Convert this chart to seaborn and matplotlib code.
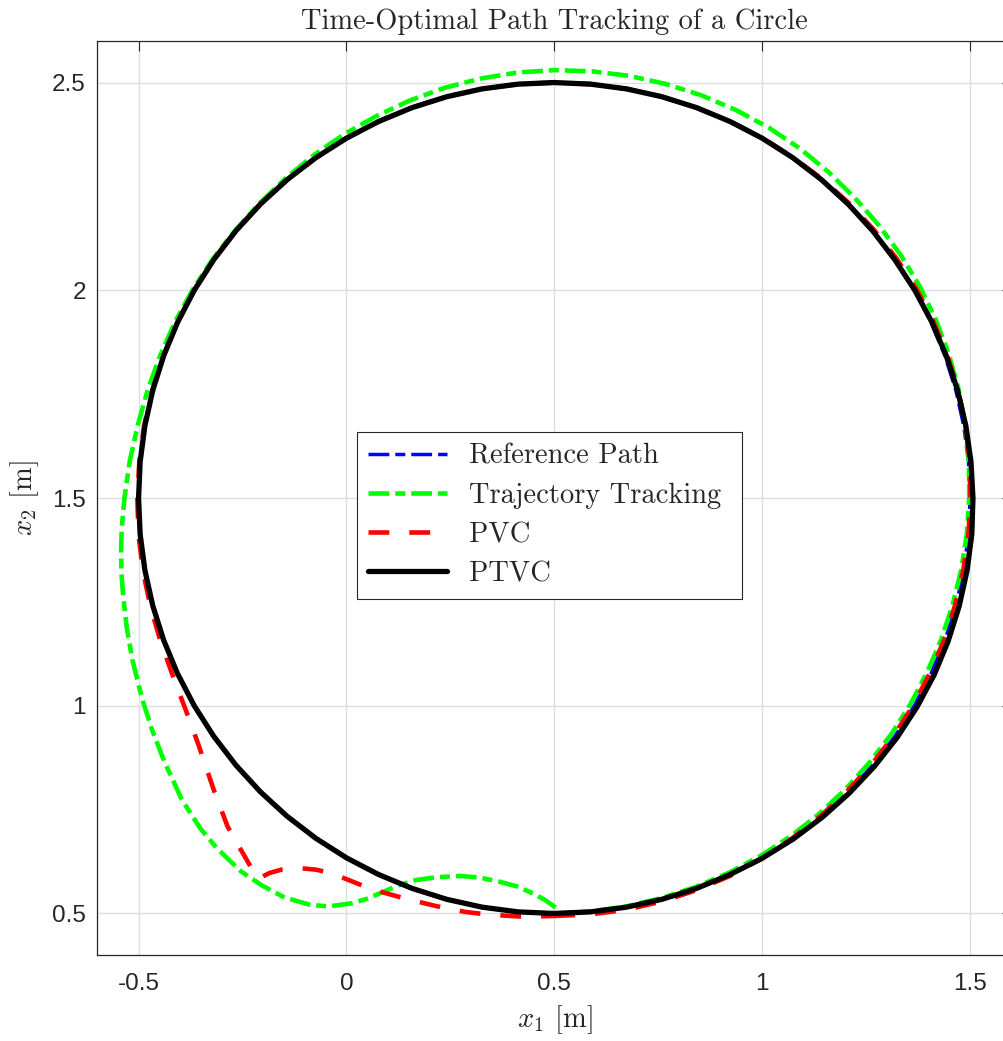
import numpy as np
import pandas as pd
import matplotlib
matplotlib.use("Agg")
import matplotlib.pyplot as plt
import seaborn as sns

# every path is read off the picture as angle (deg) / radius (m) about the
# centre of the reference circle, starting at the bottom and going anticlockwise
centre_x, centre_y = 0.5, 1.5

theta_ring = [-90, -85, -80, -75, -70, -65, -60, -55, -50, -45, -40, -35, -30,
              -25, -20, -15, -10, -5, 0, 5, 10, 15, 20, 25, 30, 35, 40, 45,
              50, 55, 60, 65, 70, 75, 80, 85, 90, 95, 100, 105, 110, 115, 120,
              125, 130, 135, 140, 145, 150, 155, 160, 165, 170, 175, 180, 185,
              190, 195, 200, 205, 210, 215, 220, 225, 230, 235, 240, 245, 250,
              255, 260, 265, 270]

r_reference = [1.0, 1.0, 1.0, 1.0, 1.0, 1.0, 1.0, 1.0, 1.0, 1.0, 1.0, 1.0,
               1.0, 1.0, 1.0, 1.0, 1.0, 1.0, 1.0, 1.0, 1.0, 1.0, 1.0, 1.0,
               1.0, 1.0, 1.0, 1.0, 1.0, 1.0, 1.0, 1.0, 1.0, 1.0, 1.0, 1.0,
               1.0, 1.0, 1.0, 1.0, 1.0, 1.0, 1.0, 1.0, 1.0, 1.0, 1.0, 1.0,
               1.0, 1.0, 1.0, 1.0, 1.0, 1.0, 1.0, 1.0, 1.0, 1.0, 1.0, 1.0,
               1.0, 1.0, 1.0, 1.0, 1.0, 1.0, 1.0, 1.0, 1.0, 1.0, 1.0, 1.0,
               1.0]

r_ptvc = [1.0, 1.0, 1.0, 1.0, 1.0, 1.0, 1.001, 1.002, 1.003, 1.004, 1.005,
          1.006, 1.007, 1.008, 1.008, 1.008, 1.008, 1.008, 1.007, 1.006,
          1.005, 1.004, 1.003, 1.002, 1.001, 1.0, 1.0, 1.0, 1.0, 1.0, 1.0,
          1.0, 1.0, 1.0, 1.0, 1.0, 1.0, 1.0, 1.0, 1.0, 1.0, 1.0, 1.0, 1.0,
          1.0, 1.0, 1.0, 1.0, 1.0, 1.0, 1.0, 1.0, 1.0, 1.0, 1.0, 1.0, 1.0,
          1.0, 1.0, 1.0, 1.0, 1.0, 1.0, 1.0, 1.0, 1.0, 1.0, 1.0, 1.0, 1.0,
          1.0, 1.0, 1.0]

theta_traj = [-90, -85, -80, -75, -70, -65, -60, -55, -50, -45, -40, -35, -30,
              -25, -20, -15, -10, -5, 0, 5, 10, 15, 20, 25, 30, 35, 40, 45,
              50, 55, 60, 65, 70, 75, 80, 85, 90, 95, 100, 105, 110, 115, 120,
              125, 130, 135, 140, 145, 150, 155, 160, 165, 170, 175, 180, 184,
              187, 190, 193, 197, 201, 206, 210, 214, 219, 223, 226, 230, 233,
              236, 239, 241, 243.5, 245, 246.5, 248.1, 250.1, 252.7, 255.9,
              258.8, 261.9, 264.5, 266.9, 268.7, 270.2]
r_traj = [1.0, 0.999, 0.998, 0.997, 0.996, 0.995, 0.994, 0.993, 0.992, 0.991,
          0.990, 0.990, 0.990, 0.990, 0.991, 0.992, 0.994, 0.996, 0.998, 1.001,
          1.004, 1.007, 1.010, 1.013, 1.016, 1.018, 1.020, 1.022, 1.025, 1.028,
          1.030, 1.031, 1.032, 1.032, 1.032, 1.031, 1.030, 1.028, 1.025, 1.022,
          1.018, 1.014, 1.011, 1.008, 1.005, 1.003, 1.002, 1.003, 1.004, 1.006,
          1.008, 1.012, 1.017, 1.025, 1.034, 1.043, 1.050, 1.057, 1.064, 1.075,
          1.087, 1.103, 1.117, 1.132, 1.153, 1.165, 1.170, 1.173, 1.168, 1.160,
          1.142, 1.124, 1.090, 1.064, 1.034, 1.005, 0.978, 0.956, 0.938, 0.931,
          0.933, 0.939, 0.953, 0.968, 0.986]

theta_pvc = [-90, -85, -80, -75, -70, -65, -60, -55, -50, -45, -40, -35, -30,
             -25, -20, -15, -10, -5, 0, 5, 10, 15, 20, 25, 30, 35, 40, 45,
             50, 55, 60, 65, 70, 75, 80, 85, 90, 95, 100, 105, 110, 115, 120,
             125, 130, 135, 140, 145, 150, 155, 160, 165, 170, 175, 180, 185,
             190, 195, 200, 204, 207, 210, 215, 220.6, 225.2, 227.9, 230.9,
             232.2, 232.8, 233.8, 235.4, 237.4, 239.4, 241.3, 244.2, 246.5,
             248.8, 251, 253.4, 255.6, 257.9, 260.2, 262.5, 265, 267, 270]
r_pvc = [1.006, 1.006, 1.006, 1.005, 1.004, 1.003, 1.001, 0.999, 0.998, 0.997,
         0.997, 0.997, 0.997, 0.997, 0.998, 0.998, 0.999, 1.0, 1.001, 1.003,
         1.004, 1.005, 1.006, 1.006, 1.006, 1.005, 1.004, 1.003, 1.002, 1.001,
         1.001, 1.0, 1.0, 1.0, 1.0, 1.0, 1.0, 1.0, 1.0, 1.0, 1.0, 1.0, 1.0,
         1.0, 1.0, 1.0, 1.0, 1.0, 1.0, 1.0, 1.001, 1.001, 1.002, 1.002, 1.003,
         1.004, 1.005, 1.006, 1.008, 1.011, 1.016, 1.023, 1.043, 1.079, 1.115,
         1.131, 1.152, 1.159, 1.133, 1.108, 1.082, 1.062, 1.050, 1.045, 1.040,
         1.035, 1.030, 1.026, 1.023, 1.021, 1.019, 1.016, 1.013, 1.011, 1.009,
         1.006]

x_ticks = [-0.5, 0, 0.5, 1, 1.5]
x_tick_labels = ['-0.5', '0', '0.5', '1', '1.5']
y_ticks = [0.5, 1, 1.5, 2, 2.5]
y_tick_labels = ['0.5', '1', '1.5', '2', '2.5']


def to_frame(theta, radius):
    t = np.deg2rad(np.asarray(theta, dtype=float))
    r = np.asarray(radius, dtype=float)
    return pd.DataFrame({'x': centre_x + r * np.cos(t),
                         'y': centre_y + r * np.sin(t)})


sns.set_theme(style='white')
plt.rcParams['font.family'] = ['Liberation Sans', 'DejaVu Sans']
plt.rcParams['mathtext.fontset'] = 'cm'
plt.rcParams['lines.scale_dashes'] = False
plt.rcParams['axes.unicode_minus'] = False

fig = plt.figure(figsize=(10.04, 10.41), dpi=100)
ax = fig.add_axes([0.0966, 0.0826, 0.911, 0.878])

dashdot = (0, (15, 4.3, 7.2, 4.3))
dashed = (0, (15, 14.4))

curves = [
    ('Reference Path', theta_ring, r_reference, (0, 0, 1), 2.5, dashdot),
    ('Trajectory Tracking', theta_traj, r_traj, (0, 1, 0), 3.3, dashdot),
    ('PVC', theta_pvc, r_pvc, (1, 0, 0), 3.3, dashed),
    ('PTVC', theta_ring, r_ptvc, (0, 0, 0), 3.8, '-'),
]

for label, th, rad, color, lw, ls in curves:
    sns.lineplot(data=to_frame(th, rad), x='x', y='y', sort=False,
                 estimator=None, color=color, lw=lw, linestyle=ls,
                 dash_capstyle='butt', label=label, ax=ax)

ax.set_xlim(-0.6, 1.6)
ax.set_ylim(0.4, 2.6)

#grid and box
ax.grid(True, color='#dedede', lw=1.0)
ax.set_axisbelow(True)
for sp in ax.spines.values():
    sp.set_visible(True)
    sp.set_color('#262626')
    sp.set_linewidth(0.9)

ax.set_xticks(x_ticks, x_tick_labels)
ax.set_yticks(y_ticks, y_tick_labels)
ax.tick_params(direction='in', length=7, width=0.8, top=True, right=True,
               color='#262626', labelcolor='#262626', labelsize=17.5)
ax.tick_params(axis='x', pad=13)
ax.tick_params(axis='y', pad=8)

cm = {'family': 'cmr10'}
ax.set_title('Time-Optimal Path Tracking of a Circle', fontdict=cm,
             fontsize=20.5, pad=8.5)
ax.set_xlabel(r'$x_1$ [m]', fontdict=cm, fontsize=20.5, labelpad=6)
ax.set_ylabel(r'$x_2$ [m]', fontdict=cm, fontsize=20.5, labelpad=8)

# legend box stretched to the reference width
handles, labels = ax.get_legend_handles_labels()
leg = ax.legend(handles, labels, loc='upper left', mode='expand',
                bbox_to_anchor=(0.2843, 0.40, 0.421, 0.1722), borderaxespad=0,
                fancybox=False, framealpha=1, edgecolor='#262626',
                prop={'family': 'cmr10', 'size': 20.5},
                handlelength=2.75, handletextpad=0.8, borderpad=0.4,
                labelspacing=0.45)
leg.get_frame().set_linewidth(0.8)

fig.savefig('out.png', dpi=100)
